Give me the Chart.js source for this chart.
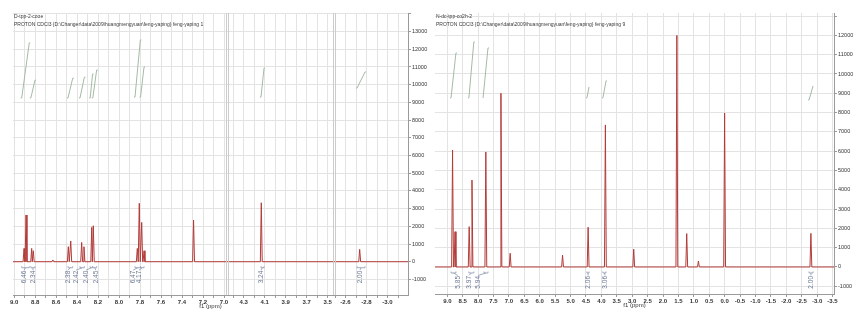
<!DOCTYPE html>
<html>
<head>
<meta charset="utf-8">
<script src="https://cdn.jsdelivr.net/npm/chart.js@4.4.0/dist/chart.umd.min.js"></script>
<style>
    html, body { margin: 0; padding: 0; background: #ffffff; }
    #wrap { position: relative; width: 857px; height: 318px; overflow: hidden; }
    canvas { position: absolute; top: 0; }
    #canvas1 { left: 0; }
    #canvas2 { left: 432px; }
</style>
</head>
<body>
<div id="wrap">
    <canvas id="canvas1" width="432" height="318"></canvas>
    <canvas id="canvas2" width="425" height="318"></canvas>
</div>
<script>
// ---- left spectrum (broken ppm axis) ----
const leftHeader = ['D-tpp-2-cooe', 'PROTON CDCl3 {D:\\Changer\\data\\2009\\huangmengyuan\\feng-yaping} feng-yaping 1']
const leftPeakPpm    = [8.905, 8.886, 8.832, 8.817, 8.63, 8.483, 8.46, 8.356, 8.334, 8.26, 8.245, 7.826, 7.807, 7.784, 7.762, 7.29, 4.133, -2.735]
const leftPeakHeight = [750, 2640, 750, 620, 100, 850, 1170, 1090, 850, 1940, 2030, 750, 3300, 2220, 620, 2350, 3330, 700]

const leftIntStart = [8.927, 8.84, 8.486, 8.372, 8.275, 8.25, 7.848, 7.795, 4.136, -2.71]
const leftIntEnd   = [8.855, 8.80, 8.441, 8.33, 8.252, 8.213, 7.797, 7.762, 4.107, -2.786]
const leftIntLow   = [9250, 9250, 9250, 9250, 9250, 9250, 9300, 9300, 9300, 9810]
const leftIntHigh  = [12360, 10260, 10370, 10430, 10600, 10830, 12530, 11000, 10940, 10720]
const leftIntLabelPpm = [8.905, 8.82, 8.486, 8.41, 8.315, 8.22, 7.867, 7.81, 4.136, -2.738]
const leftIntText  = ['6.46', '2.34', '2.38', '2.42', '2.40', '2.45', '6.47', '4.17', '3.24', '2.00']

const leftYTicks = [-1000, 0, 1000, 2000, 3000, 4000, 5000, 6000, 7000, 8000, 9000, 10000, 11000, 12000, 13000]

// ---- right spectrum ----
const rightHeader = ['N-dc-tpp-co2h-2', 'PROTON CDCl3 {D:\\Changer\\data\\2009\\huangmengyuan\\feng-yaping} feng-yaping 9']
const rightPeakPpm    = [8.83, 8.75, 8.29, 8.20, 7.75, 7.26, 6.96, 5.26, 4.43, 3.87, 2.95, 1.55, 1.23, 0.85, 0.0, -2.8]
const rightPeakHeight = [6060, 1830, 2090, 4500, 5960, 9000, 710, 620, 2060, 7360, 920, 12000, 1730, 310, 7980, 1740]

const rightIntStart = [8.88, 8.30, 7.81, 4.47, 3.95, -2.74]
const rightIntEnd   = [8.72, 8.14, 7.68, 4.40, 3.85, -2.87]
const rightIntLow   = [8760, 8760, 8760, 8760, 8760, 8650]
const rightIntHigh  = [11090, 11660, 11350, 9330, 9640, 9380]
const rightIntLabelPpm = [8.66, 8.30, 8.0, 4.43, 3.88, -2.8]
const rightIntText  = ['5.85', '3.97', '5.94', '2.06', '3.06', '2.00']

const rightYTicks = [-1000, 0, 1000, 2000, 3000, 4000, 5000, 6000, 7000, 8000, 9000, 10000, 11000, 12000]

// styles
const FONT = '"Liberation Sans", Arial, sans-serif'
const SPEC_COLOR = '#b23b38'
const INT_COLOR = '#a3bba3'
const GRID_COLOR = '#e3e3e3'
const AXIS_COLOR = '#9a9a9a'
const TICK_COLOR = '#333333'

// baseline - apex - baseline for each peak inside a ppm window
function spectrumPoints(ppms, heights, lo, hi, halfWidth) {
    let pts = [{ x: hi, y: 0 }, { x: lo, y: 0 }]
    ppms.forEach((p, i) => {
        if (p < lo || p > hi) return
        pts.push({ x: Math.min(hi, p + halfWidth), y: 0 })
        pts.push({ x: p, y: heights[i] })
        pts.push({ x: Math.max(lo, p - halfWidth), y: 0 })
    })
    return pts.sort((a, b) => b.x - a.x)
}

// integral curves, separated by gaps
function integralPoints(starts, ends, lows, highs, lo, hi, tail) {
    let pts = []
    starts.forEach((s, i) => {
        if (s < lo || s > hi) return
        pts.push({ x: Math.min(hi, s + tail), y: lows[i] })
        pts.push({ x: s, y: lows[i] })
        pts.push({ x: ends[i], y: highs[i] })
        pts.push({ x: Math.max(lo, ends[i] - tail), y: highs[i] })
        pts.push({ x: Math.max(lo, ends[i] - tail), y: null })
    })
    return pts
}

function decorations(header, integrals, segmentIds) {
    return {
        id: 'decor',
        afterDraw(chart) {
            const ctx = chart.ctx
            const area = chart.chartArea
            const yScale = chart.scales.y
            ctx.save()

            // axis breaks: thin double line
            ctx.strokeStyle = '#cccccc'
            ctx.lineWidth = 1
            segmentIds.slice(1).forEach(id => {
                const x = Math.round(chart.scales[id].left)
                ctx.beginPath()
                ctx.moveTo(x - 1.5, area.top)
                ctx.lineTo(x - 1.5, area.bottom)
                ctx.moveTo(x + 0.5, area.top)
                ctx.lineTo(x + 0.5, area.bottom)
                ctx.stroke()
            })

            // header lines
            ctx.fillStyle = '#3a3a3a'
            ctx.font = '5px ' + FONT
            ctx.textBaseline = 'top'
            ctx.textAlign = 'left'
            header.forEach((line, i) => ctx.fillText(line, area.left + 1, area.top + 1 + i * 8))

            // axis title
            ctx.font = '6px ' + FONT
            ctx.textAlign = 'center'
            ctx.fillStyle = TICK_COLOR
            ctx.fillText('f1 (ppm)', (area.left + area.right) / 2, area.bottom + 8)

            // integral brackets and values
            const yb = yScale.getPixelForValue(0) + 6
            integrals.forEach(it => {
                const xs = chart.scales[it.axis]
                const a = xs.getPixelForValue(it.start)
                const b = xs.getPixelForValue(it.end)
                const c = xs.getPixelForValue(it.labelAt)
                ctx.strokeStyle = '#8b97b0'
                ctx.lineWidth = 0.8
                ctx.beginPath()
                ctx.moveTo(a, yb - 1.5)
                ctx.lineTo(a, yb)
                ctx.lineTo(b, yb)
                ctx.lineTo(b, yb - 1.5)
                ctx.moveTo((a + b) / 2, yb)
                ctx.lineTo(c, yb + 2.5)
                ctx.stroke()

                ctx.save()
                ctx.translate(c, yb + 3)
                ctx.rotate(-Math.PI / 2)
                ctx.textAlign = 'right'
                ctx.textBaseline = 'middle'
                ctx.fillStyle = '#6a7793'
                ctx.font = '6.5px ' + FONT
                ctx.fillText(it.text, 0, 0)
                ctx.restore()
            })
            ctx.restore()
        }
    }
}

function xTickOptions() {
    return {
        autoSkip: false,
        maxRotation: 0,
        minRotation: 0,
        padding: 1,
        color: TICK_COLOR,
        font: { size: 6, weight: 'bold', family: FONT }
    }
}

function yScaleOptions(min, max, labelled, width) {
    return {
        type: 'linear',
        position: 'right',
        min: min,
        max: max,
        afterFit: s => { s.width = width },
        afterBuildTicks: s => {
            let ticks = labelled.map(v => ({ value: v }))
            ticks.push({ value: labelled[labelled.length - 1] + 1000 })
            s.ticks = ticks.filter(t => t.value <= max)
        },
        ticks: {
            padding: 1,
            color: TICK_COLOR,
            font: { size: 5.5, family: FONT },
            callback: v => labelled.includes(v) ? String(v) : ''
        },
        grid: { color: GRID_COLOR, tickLength: 3, tickColor: AXIS_COLOR },
        border: { color: AXIS_COLOR }
    }
}

// ---- left chart ----
const leftSegments = [
    { id: 'x1', max: 9.01, min: 6.962, weight: 215, anchor: 9.0 },
    { id: 'x2', max: 4.45, min: 3.431, weight: 107, anchor: 4.3 },
    { id: 'x3', max: -2.5, min: -3.195, weight: 73, anchor: -2.6 }
]

function findSegment(ppm) {
    return leftSegments.find(s => ppm <= s.max && ppm >= s.min)
}

let leftDatasets = []
let leftScales = {}
leftSegments.forEach(seg => {
    leftDatasets.push({
        xAxisID: seg.id,
        yAxisID: 'y',
        data: spectrumPoints(leftPeakPpm, leftPeakHeight, seg.min, seg.max, 0.009),
        borderColor: SPEC_COLOR,
        borderWidth: 1,
        pointRadius: 0,
        tension: 0
    })
    leftDatasets.push({
        xAxisID: seg.id,
        yAxisID: 'y',
        data: integralPoints(leftIntStart, leftIntEnd, leftIntLow, leftIntHigh, seg.min, seg.max, 0.01),
        borderColor: INT_COLOR,
        borderWidth: 1,
        pointRadius: 0,
        spanGaps: false,
        tension: 0
    })
    leftScales[seg.id] = {
        type: 'linear',
        position: 'bottom',
        stack: 'ppm',
        stackWeight: seg.weight,
        reverse: true,
        min: seg.min,
        max: seg.max,
        afterFit: s => { s.height = 23 },
        afterBuildTicks: s => {
            let ticks = []
            for (let k = Math.ceil(seg.min * 10 - 1e-6); k <= Math.floor(seg.max * 10 + 1e-6); k++) {
                ticks.push({ value: k / 10 })
            }
            s.ticks = ticks
        },
        ticks: Object.assign(xTickOptions(), {
            callback: v => Math.abs(Math.round((v - seg.anchor) * 10)) % 2 === 0 ? v.toFixed(1) : ''
        }),
        grid: { color: GRID_COLOR, tickLength: 3, tickColor: AXIS_COLOR },
        border: { color: AXIS_COLOR }
    }
})
leftScales.y = yScaleOptions(-1880, 14050, leftYTicks, 24)

const leftIntegrals = leftIntStart.map((s, i) => ({
    axis: findSegment(s).id,
    start: s,
    end: leftIntEnd[i],
    labelAt: leftIntLabelPpm[i],
    text: leftIntText[i]
}))

new Chart(document.getElementById('canvas1').getContext('2d'), {
    type: 'line',
    data: { datasets: leftDatasets },
    options: {
        responsive: false,
        animation: false,
        devicePixelRatio: 1,
        layout: { padding: { left: 13, top: 13, right: 0, bottom: 0 } },
        plugins: { legend: { display: false }, tooltip: { enabled: false }, title: { display: false } },
        scales: leftScales
    },
    plugins: [decorations(leftHeader, leftIntegrals, leftSegments.map(s => s.id))]
})

// ---- right chart ----
const rightMin = -3.55
const rightMax = 9.4

const rightIntegrals = rightIntStart.map((s, i) => ({
    axis: 'x',
    start: s,
    end: rightIntEnd[i],
    labelAt: rightIntLabelPpm[i],
    text: rightIntText[i]
}))

new Chart(document.getElementById('canvas2').getContext('2d'), {
    type: 'line',
    data: {
        datasets: [
            {
                data: spectrumPoints(rightPeakPpm, rightPeakHeight, rightMin, rightMax, 0.03),
                borderColor: SPEC_COLOR,
                borderWidth: 1,
                pointRadius: 0,
                tension: 0
            },
            {
                data: integralPoints(rightIntStart, rightIntEnd, rightIntLow, rightIntHigh, rightMin, rightMax, 0.03),
                borderColor: INT_COLOR,
                borderWidth: 1,
                pointRadius: 0,
                spanGaps: false,
                tension: 0
            }
        ]
    },
    options: {
        responsive: false,
        animation: false,
        devicePixelRatio: 1,
        layout: { padding: { left: 3, top: 13, right: 0, bottom: 0 } },
        plugins: { legend: { display: false }, tooltip: { enabled: false }, title: { display: false } },
        scales: {
            x: {
                type: 'linear',
                position: 'bottom',
                reverse: true,
                min: rightMin,
                max: rightMax,
                afterFit: s => { s.height = 24 },
                afterBuildTicks: s => {
                    let ticks = []
                    for (let k = Math.ceil(rightMin * 2); k <= Math.floor(rightMax * 2); k++) {
                        ticks.push({ value: k / 2 })
                    }
                    s.ticks = ticks
                },
                ticks: Object.assign(xTickOptions(), { callback: v => v.toFixed(1) }),
                grid: { color: GRID_COLOR, tickLength: 3, tickColor: AXIS_COLOR },
                border: { color: AXIS_COLOR }
            },
            y: yScaleOptions(-1400, 13160, rightYTicks, 23)
        }
    },
    plugins: [decorations(rightHeader, rightIntegrals, ['x'])]
})
</script>
</body>
</html>
